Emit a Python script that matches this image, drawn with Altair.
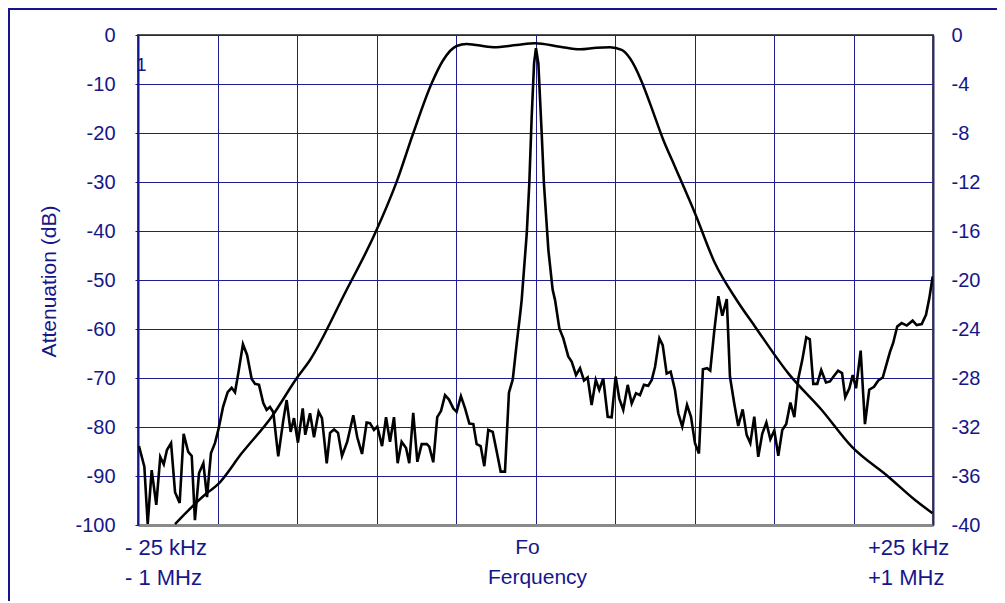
import altair as alt
import pandas as pd

# ---- data ----
grid_khz = [-25, -20, -15, -10, -5, 0, 5, 10, 15, 20, 25]
left_ticks = [0, -10, -20, -30, -40, -50, -60, -70, -80, -90, -100]
right_ticks = [0, -4, -8, -12, -16, -20, -24, -28, -32, -36, -40]

# narrow (crystal) filter response, left axis (dB), x in kHz offset from Fo
noise_khz = [-24.94, -24.60, -24.39, -24.14, -23.85, -23.60, -23.38, -23.18, -22.92, -22.67,
             -22.38, -22.13, -21.84, -21.62, -21.42, -21.16, -20.89, -20.66, -20.41, -20.16,
             -19.95, -19.65, -19.36, -19.11, -18.90, -18.69, -18.40, -18.14, -17.85, -17.64,
             -17.39, -17.12, -16.91, -16.70, -16.49, -16.18, -15.86, -15.65, -15.40, -15.19,
             -14.94, -14.64, -14.48, -14.18, -13.93, -13.64, -13.43, -13.13, -12.92, -12.67,
             -12.42, -12.17, -11.84, -11.46, -11.21, -10.91, -10.62, -10.41, -10.16, -9.95,
             -9.65, -9.40, -9.15, -8.90, -8.67, -8.42, -8.14, -7.94, -7.69, -7.43,
             -7.16, -6.84, -6.68, -6.43, -6.18, -5.94, -5.69, -5.44, -5.17, -4.96,
             -4.69, -4.43, -4.16, -3.91, -3.70, -3.45, -3.22, -2.97, -2.69, -2.44,
             -2.19, -1.92, -1.67, -1.43, -1.18, -0.97, -0.87, -0.55, -0.39, -0.24,
             -0.09, 0.03, 0.18, 0.39, 0.53, 0.81, 1.08, 1.23, 1.50, 1.75,
             2.06, 2.28, 2.55, 2.80, 3.05, 3.28, 3.53, 3.79, 4.01, 4.26,
             4.54, 4.79, 5.04, 5.27, 5.52, 5.80, 6.05, 6.32, 6.57, 6.82,
             7.09, 7.31, 7.52, 7.79, 8.00, 8.25, 8.50, 8.77, 8.98, 9.23,
             9.53, 9.78, 10.03, 10.28, 10.53, 10.79, 10.99, 11.25, 11.50, 11.75,
             12.03, 12.23, 12.50, 12.75, 13.03, 13.28, 13.51, 13.76, 14.01, 14.26,
             14.52, 14.77, 15.02, 15.27, 15.52, 15.77, 16.03, 16.28, 16.53, 16.78,
             17.03, 17.25, 17.47, 17.72, 17.97, 18.27, 18.52, 18.77, 19.03, 19.28,
             19.48, 19.74, 19.95, 20.16, 20.45, 20.72, 20.99, 21.29, 21.56, 21.84,
             22.09, 22.30, 22.50, 22.75, 23.03, 23.35, 23.72, 23.97, 24.29, 24.56,
             24.77, 24.98]
noise_db = [-83.9, -88.1, -99.8, -88.8, -95.9, -86.1, -87.6, -84.7, -83.3, -93.3,
            -95.5, -81.4, -85.1, -85.9, -99.0, -89.4, -87.4, -94.3, -85.3, -83.3,
            -80.6, -75.9, -72.9, -72.0, -72.9, -69.0, -63.1, -65.3, -70.2, -71.2,
            -71.4, -75.1, -76.5, -75.9, -77.0, -86.0, -78.6, -74.5, -81.0, -78.2,
            -83.2, -76.2, -81.6, -77.2, -82.1, -76.9, -78.2, -87.4, -81.2, -80.5,
            -81.2, -85.9, -83.0, -77.6, -82.1, -85.5, -79.1, -79.2, -80.6, -79.9,
            -83.9, -78.0, -83.0, -78.0, -87.4, -83.0, -84.3, -87.4, -77.1, -87.1,
            -83.5, -83.5, -84.0, -87.2, -78.0, -76.7, -73.5, -74.4, -76.2, -76.9,
            -73.7, -76.2, -79.3, -79.4, -83.5, -83.9, -88.0, -80.6, -81.0, -85.0,
            -89.1, -89.1, -73.0, -70.3, -62.9, -57.1, -54.1, -40.5, -30.3, -16.7,
            -5.8, -2.7, -5.8, -20.1, -30.3, -43.9, -52.0, -54.1, -59.9, -61.9,
            -65.6, -66.7, -69.4, -68.0, -70.5, -69.9, -75.5, -70.4, -72.4, -70.1,
            -77.9, -78.0, -69.7, -74.2, -76.5, -71.4, -75.2, -73.1, -73.5, -71.4,
            -71.6, -70.4, -67.7, -61.9, -63.3, -69.1, -68.7, -72.4, -77.2, -79.9,
            -75.5, -77.9, -83.3, -85.4, -68.2, -68.0, -68.5, -60.2, -53.3, -57.3,
            -53.9, -69.7, -75.2, -79.8, -76.4, -81.6, -83.3, -77.9, -86.1, -81.4,
            -79.1, -82.5, -80.7, -85.9, -80.6, -79.4, -75.0, -78.0, -70.1, -66.3,
            -61.7, -62.1, -71.2, -71.2, -68.4, -70.9, -70.7, -69.6, -68.5, -69.0,
            -73.9, -72.1, -69.4, -72.1, -64.4, -79.4, -72.4, -71.8, -70.5, -69.9,
            -67.0, -64.6, -62.8, -59.5, -58.8, -59.3, -58.3, -59.2, -59.0, -57.1,
            -53.7, -49.3]

# wide filter response, right axis (dB)
wide_khz = [-22.67, -20.68, -20.01, -18.48, -16.59, -15.02, -14.18, -11.98, -10.09, -8.73,
            -7.69, -6.53, -5.80, -4.96, -4.33, -2.65, -1.18, -0.03, 1.54, 2.80,
            3.85, 4.69, 5.42, 5.94, 6.68, 7.20, 8.04, 8.77, 10.03, 11.29,
            12.65, 13.81, 15.90, 18.00, 19.89, 22.19, 23.87, 24.97]
wide_db = [-39.92, -37.41, -36.73, -34.15, -31.16, -28.02, -26.53, -21.06, -16.19, -11.97,
           -8.02, -3.94, -2.04, -0.90, -0.73, -1.00, -0.82, -0.68, -0.96, -1.17,
           -1.04, -1.00, -1.22, -1.90, -3.81, -5.58, -8.57, -10.75, -14.55, -18.64,
           -21.63, -23.81, -27.62, -30.61, -33.61, -36.06, -37.96, -39.04]

label_khz = [-25, 0, 25]
label_top = ["- 25 kHz", "Fo", "+25 kHz"]
label_bottom = ["- 1 MHz", "Ferquency", "+1 MHz"]

# ---- styling ----
NAVY = "#16168A"
GRID = "#1E1E8C"
FONT = "Liberation Sans"
W, H = 795, 490
HYPHEN_LABEL = "'' + datum.value"

noise = pd.DataFrame({"f": noise_khz, "db": noise_db})
wide = pd.DataFrame({"f": wide_khz, "db": wide_db})

xscale = alt.Scale(domain=[-25, 25], nice=False, zero=False)
xaxis = alt.Axis(values=grid_khz, labels=False, ticks=False, grid=True,
                 gridColor=GRID, gridWidth=1, gridOpacity=1,
                 domainColor="#8a8a8a", domainWidth=3, title=None)

narrow_line = alt.Chart(noise).mark_line(color="black", strokeWidth=2.6, clip=True).encode(
    x=alt.X("f:Q", scale=xscale, axis=xaxis),
    y=alt.Y("db:Q", scale=alt.Scale(domain=[-100, 0], nice=False, zero=False),
            axis=alt.Axis(values=left_ticks, orient="left", grid=True, gridColor=GRID,
                          gridWidth=1, gridOpacity=1, tickSize=3, tickColor=NAVY,
                          labelExpr=HYPHEN_LABEL,
                          labelPadding=20, labelFontSize=20, labelColor=NAVY, labelFont=FONT,
                          domainColor=NAVY, domainWidth=2,
                          title="Attenuation (dB)", titleColor=NAVY, titleFontSize=21,
                          titleFont=FONT, titleFontWeight="normal",
                          titleX=-89, titleY=246, titleAlign="center",
                          titleBaseline="middle", titleAngle=270)),
)

wide_line = alt.Chart(wide).mark_line(color="black", strokeWidth=2.5,
                                      interpolate="monotone", clip=True).encode(
    x=alt.X("f:Q", scale=xscale, axis=xaxis),
    y=alt.Y("db:Q", scale=alt.Scale(domain=[-40, 0], nice=False, zero=False),
            axis=alt.Axis(values=right_ticks, orient="right", grid=False, ticks=False,
                          labelExpr=HYPHEN_LABEL,
                          labelPadding=18, labelFontSize=20, labelColor=NAVY, labelFont=FONT,
                          domainColor="#2a2a6a", domainWidth=2, title=None)),
)

labels_df = pd.DataFrame({"f": label_khz, "top": label_top, "bottom": label_bottom})


def text_layer(idx, field, ypix, align, dx, size=21):
    return alt.Chart(labels_df.iloc[[idx]]).mark_text(
        align=align, baseline="middle", dx=dx, fontSize=size, font=FONT, color=NAVY
    ).encode(
        x=alt.X("f:Q", scale=xscale, axis=xaxis),
        y=alt.value(ypix),
        text=alt.Text(f"{field}:N"),
    )


texts = [
    text_layer(0, "top", 513, "left", -13, 22),
    text_layer(0, "bottom", 543, "left", -13, 22),
    text_layer(1, "top", 513, "center", -8),
    text_layer(1, "bottom", 543, "center", 2),
    text_layer(2, "top", 513, "left", -65, 22),
    text_layer(2, "bottom", 543, "left", -65, 22),
]

stray = alt.Chart(pd.DataFrame({"f": [-25], "t": ["1"]})).mark_text(
    align="left", baseline="middle", dx=-2, fontSize=19, font=FONT, color=NAVY
).encode(x=alt.X("f:Q", scale=xscale, axis=xaxis), y=alt.value(30), text="t:N")

one = pd.DataFrame({"a": [0]})
frame_top = alt.Chart(one).mark_rule(color=NAVY, strokeWidth=2).encode(
    x=alt.value(-130), x2=alt.value(875), y=alt.value(-26))
frame_left = alt.Chart(one).mark_rule(color=NAVY, strokeWidth=2).encode(
    x=alt.value(-129), y=alt.value(-27), y2=alt.value(570))

chart = alt.layer(
    narrow_line, wide_line, *texts, stray, frame_top, frame_left
).resolve_scale(y="independent").properties(
    width=W, height=H,
    autosize=alt.AutoSizeParams(type="none"),
    padding={"left": 130, "top": 27, "right": 64, "bottom": 76},
    background="white",
).configure_view(stroke="#555555", strokeWidth=2)

chart.save("out.html", embed_options={"renderer": "svg", "actions": False})
